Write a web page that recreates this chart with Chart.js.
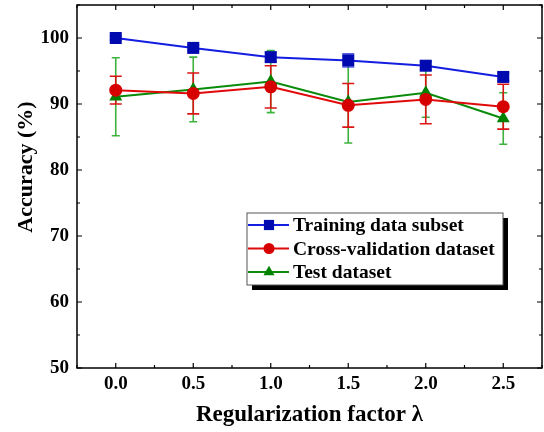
<!DOCTYPE html>
<html>
<head>
<meta charset="utf-8">
<script src="https://cdn.jsdelivr.net/npm/chart.js@4/dist/chart.umd.min.js"></script>
<style>
html, body { margin: 0; padding: 0; background: #fff; }
</style>
</head>
<body>
<canvas id="chart" width="544" height="432"></canvas>
<script>
// data
var lambdas = [0.0, 0.5, 1.0, 1.5, 2.0, 2.5];
var trainAcc = [100.0, 98.5, 97.1, 96.6, 95.8, 94.1];
var trainErr = [0.3, 0.4, 0.7, 1.0, 0.6, 0.6];
var cvAcc = [92.1, 91.6, 92.6, 89.8, 90.7, 89.6];
var cvErr = [2.1, 3.1, 3.2, 3.3, 3.7, 3.4];
var testAcc = [91.1, 92.2, 93.4, 90.3, 91.7, 87.8];
var testErr = [5.9, 4.9, 4.7, 6.2, 3.7, 3.9];
var xTicks = [0.0, 0.5, 1.0, 1.5, 2.0, 2.5];
var xMinor = [-0.25, 0.25, 0.75, 1.25, 1.75, 2.25, 2.75];
var yTicks = [50, 60, 70, 80, 90, 100];
var yMinor = [55, 65, 75, 85, 95, 105];

var FONT = "'Liberation Serif', 'Times New Roman', serif";

function pts(ys) {
    return lambdas.map(function (x, i) { return { x: x, y: ys[i] }; });
}

var series = [
    { label: 'Training data subset', y: trainAcc, err: trainErr, line: 'rgb(20, 30, 225)', fill: 'rgb(0, 10, 175)', errColor: 'rgba(40, 60, 220, 0.8)', cap: 6, style: 'rect', r: 8.5 },
    { label: 'Cross-validation dataset', y: cvAcc, err: cvErr, line: 'rgb(225, 10, 10)', fill: 'rgb(215, 0, 0)', errColor: 'rgb(220, 20, 20)', cap: 6, style: 'circle', r: 6.5 },
    { label: 'Test dataset', y: testAcc, err: testErr, line: 'rgb(10, 140, 10)', fill: 'rgb(0, 130, 0)', errColor: 'rgba(40, 170, 40, 0.9)', cap: 4, style: 'triangle', r: 7.5 }
];

// error bars, drawn under the markers
var errorBars = {
    id: 'errorBars',
    beforeDatasetsDraw: function (chart) {
        var ctx = chart.ctx, xs = chart.scales.x, ys = chart.scales.y;
        ctx.save();
        series.slice().reverse().forEach(function (s) {
            ctx.strokeStyle = s.errColor;
            ctx.lineWidth = 1.6;
            lambdas.forEach(function (x, i) {
                var px = xs.getPixelForValue(x);
                var top = ys.getPixelForValue(s.y[i] + s.err[i]);
                var bot = ys.getPixelForValue(s.y[i] - s.err[i]);
                ctx.beginPath();
                ctx.moveTo(px, top); ctx.lineTo(px, bot);
                ctx.moveTo(px - s.cap, top); ctx.lineTo(px + s.cap, top);
                ctx.moveTo(px - s.cap, bot); ctx.lineTo(px + s.cap, bot);
                ctx.stroke();
            });
        });
        ctx.restore();
    }
};

// frame, inward ticks, titles and legend box
var decor = {
    id: 'decor',
    afterDraw: function (chart) {
        var ctx = chart.ctx, a = chart.chartArea, xs = chart.scales.x, ys = chart.scales.y;
        ctx.save();
        ctx.strokeStyle = '#000';
        ctx.lineWidth = 1.5;
        ctx.strokeRect(a.left, a.top, a.right - a.left, a.bottom - a.top);

        ctx.lineWidth = 1.2;
        ctx.beginPath();
        xTicks.forEach(function (v) {
            var p = xs.getPixelForValue(v);
            ctx.moveTo(p, a.bottom); ctx.lineTo(p, a.bottom - 5);
            ctx.moveTo(p, a.top); ctx.lineTo(p, a.top + 5);
        });
        xMinor.forEach(function (v) {
            var p = xs.getPixelForValue(v);
            ctx.moveTo(p, a.bottom); ctx.lineTo(p, a.bottom - 3);
            ctx.moveTo(p, a.top); ctx.lineTo(p, a.top + 3);
        });
        yTicks.forEach(function (v) {
            var p = ys.getPixelForValue(v);
            ctx.moveTo(a.left, p); ctx.lineTo(a.left + 5, p);
            ctx.moveTo(a.right, p); ctx.lineTo(a.right - 5, p);
        });
        yMinor.forEach(function (v) {
            var p = ys.getPixelForValue(v);
            ctx.moveTo(a.left, p); ctx.lineTo(a.left + 3, p);
            ctx.moveTo(a.right, p); ctx.lineTo(a.right - 3, p);
        });
        ctx.stroke();

        // axis titles
        ctx.fillStyle = '#000';
        ctx.textAlign = 'center';
        ctx.textBaseline = 'middle';
        ctx.font = 'bold 23px ' + FONT;
        ctx.fillText('Regularization factor \u03bb', (a.left + a.right) / 2, 415);
        ctx.font = 'bold 22px ' + FONT;
        ctx.save();
        ctx.translate(26, 167);
        ctx.rotate(-Math.PI / 2);
        ctx.fillText('Accuracy (%)', 0, 0);
        ctx.restore();

        // legend with drop shadow
        var bx = 247, by = 213, bw = 256, bh = 72;
        ctx.fillStyle = '#000';
        ctx.fillRect(bx + 5, by + 5, bw, bh);
        ctx.fillStyle = '#fff';
        ctx.fillRect(bx, by, bw, bh);
        ctx.strokeStyle = '#555';
        ctx.lineWidth = 1;
        ctx.strokeRect(bx, by, bw, bh);
        ctx.font = 'bold 19.5px ' + FONT;
        ctx.textAlign = 'left';
        series.forEach(function (s, i) {
            var cy = 225 + i * 23.5;
            ctx.strokeStyle = s.line;
            ctx.lineWidth = 2;
            ctx.beginPath();
            ctx.moveTo(bx + 1, cy); ctx.lineTo(bx + 42, cy);
            ctx.stroke();
            ctx.fillStyle = s.fill;
            Chart.helpers.drawPoint(ctx, { pointStyle: s.style, radius: s.r * 0.85, borderWidth: 0, rotation: 0 }, bx + 22, cy);
            ctx.fillStyle = '#000';
            ctx.fillText(s.label, bx + 46, cy + 1);
        });
        ctx.restore();
    }
};

var ctx = document.getElementById('chart').getContext('2d');
new Chart(ctx, {
    type: 'line',
    data: {
        datasets: series.map(function (s) {
            return {
                label: s.label,
                data: pts(s.y),
                borderColor: s.line,
                backgroundColor: s.fill,
                pointBackgroundColor: s.fill,
                pointBorderColor: s.fill,
                pointBorderWidth: 0,
                pointStyle: s.style,
                pointRadius: s.r,
                borderWidth: 2,
                tension: 0,
                fill: false
            };
        })
    },
    options: {
        responsive: false,
        animation: false,
        devicePixelRatio: 1,
        layout: { autoPadding: false, padding: { top: 5, right: 2, left: 0, bottom: 0 } },
        plugins: { legend: { display: false }, tooltip: { enabled: false } },
        scales: {
            x: {
                type: 'linear',
                min: -0.25,
                max: 2.75,
                grid: { display: false, drawTicks: false },
                border: { display: false },
                afterBuildTicks: function (scale) {
                    scale.ticks = xTicks.map(function (v) { return { value: v }; });
                },
                afterFit: function (scale) {
                    scale.height = 64;
                    scale.paddingLeft = 0;
                    scale.paddingRight = 0;
                },
                ticks: {
                    padding: 5,
                    color: '#000',
                    font: { family: FONT, weight: 'bold', size: 19 },
                    callback: function (v) { return Number(v).toFixed(1); }
                }
            },
            y: {
                min: 50,
                max: 105,
                grid: { display: false, drawTicks: false },
                border: { display: false },
                afterBuildTicks: function (scale) {
                    scale.ticks = yTicks.map(function (v) { return { value: v }; });
                },
                afterFit: function (scale) {
                    scale.width = 77;
                    scale.paddingTop = 0;
                    scale.paddingBottom = 0;
                },
                ticks: {
                    padding: 8,
                    color: '#000',
                    font: { family: FONT, weight: 'bold', size: 19 }
                }
            }
        }
    },
    plugins: [errorBars, decor]
});
</script>
</body>
</html>
